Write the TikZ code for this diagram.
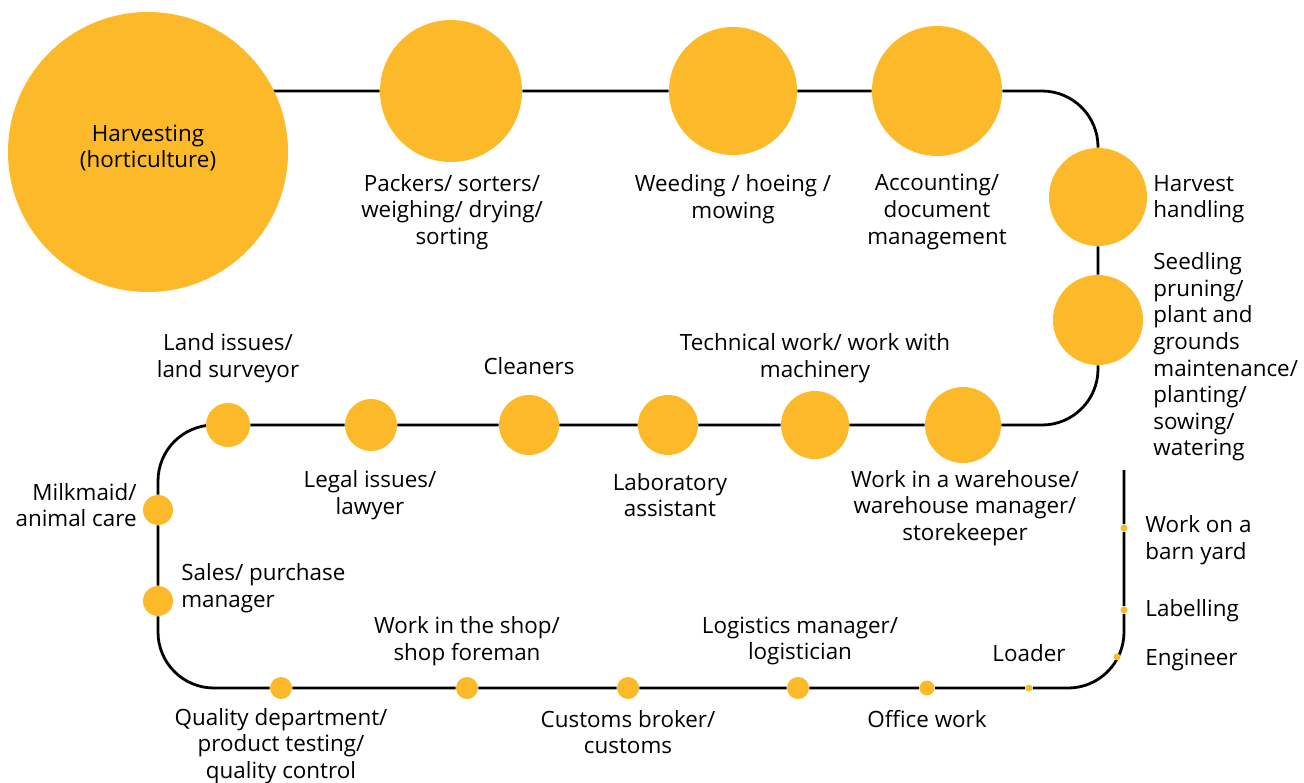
\documentclass[tikz,border=0pt]{standalone}
\usepackage{fontspec}
\setmainfont{Open Sans}
\usetikzlibrary{backgrounds}
\definecolor{amber}{RGB}{252,186,43}

\begin{document}
\begin{tikzpicture}[x=0.5pt, y=-0.5pt,
  stop/.style={circle, fill=amber, inner sep=0pt},
  lbl/.style={align=center, inner sep=0pt, font=\fontsize{11.2}{13.3}\selectfont},
  track/.style={draw=black, line width=1.4pt, rounded corners=28pt}]
  \useasboundingbox (0,0) rectangle (1304,782);

  % stops along the track
  \node[stop, minimum size=140pt] (harv) at (148,152) {};
  \node[stop, minimum size=71pt] (pack) at (451,91) {};
  \node[stop, minimum size=64pt] (weed) at (733,91) {};
  \node[stop, minimum size=65pt] (acct) at (937,91) {};
  \node[stop, minimum size=49pt] (hh) at (1098,197) {};
  \node[stop, minimum size=45pt] (seed) at (1098,320) {};
  \node[stop, minimum size=38pt] (ware) at (963,425) {};
  \node[stop, minimum size=34pt] (tech) at (815,425) {};
  \node[stop, minimum size=30pt] (lab) at (668,425) {};
  \node[stop, minimum size=30pt] (clean) at (529,425) {};
  \node[stop, minimum size=26pt] (legal) at (371,425) {};
  \node[stop, minimum size=22pt] (land) at (228,425) {};
  \node[stop, minimum size=15pt] (milk) at (158,510) {};
  \node[stop, minimum size=15pt] (sales) at (158,601) {};
  \node[stop, minimum size=11pt] (qual) at (281,688) {};
  \node[stop, minimum size=11pt] (shop) at (467,688) {};
  \node[stop, minimum size=11pt] (cust) at (628,688) {};
  \node[stop, minimum size=11pt] (logi) at (798,688) {};
  \node[stop, minimum size=7.5pt] (office) at (927,688) {};
  \node[stop, minimum size=3.5pt] (loader) at (1029,688) {};
  \node[stop, minimum size=3.5pt] (eng) at (1117,657) {};
  \node[stop, minimum size=3.5pt] (label) at (1124,610) {};
  \node[stop, minimum size=3.5pt] (barn) at (1124,528) {};

  % corners and ends of the track
  \coordinate (t0) at (200,91);
  \coordinate (c1) at (1098,91);
  \coordinate (c2) at (1098,425);
  \coordinate (c3) at (158,425);
  \coordinate (c4) at (158,688);
  \coordinate (c5) at (1124,688);
  \coordinate (tend) at (1124,470);

  \begin{pgfonlayer}{background}
    \draw[track] (t0) -- (pack) -- (weed) -- (acct) -- (c1) -- (hh) -- (seed)
      -- (c2) -- (ware) -- (tech) -- (lab) -- (clean) -- (legal) -- (land)
      -- (c3) -- (milk) -- (sales) -- (c4) -- (qual) -- (shop) -- (cust)
      -- (logi) -- (office) -- (loader) -- (c5) -- (label) -- (barn) -- (tend);
  \end{pgfonlayer}

  % labels
  \node[lbl] (harvT) at (148,148) {Harvesting\\(horticulture)};
  \node[lbl] (packT) at (452,212) {Packers/ sorters/\\weighing/ drying/\\sorting};
  \node[lbl] (weedT) at (733,199) {Weeding / hoeing /\\mowing};
  \node[lbl] (acctT) at (937,212) {Accounting/\\document\\management};
  \node[lbl, anchor=west, align=left] (hhT) at (1153,199) {Harvest\\handling};
  \node[lbl, anchor=west, align=left] (seedT) at (1153,357) {Seedling\\pruning/\\plant and\\grounds\\maintenance/\\planting/\\sowing/\\watering};
  \node[lbl] (landT) at (228,358) {Land issues/\\land surveyor};
  \node[lbl] (cleanT) at (529,366) {Cleaners};
  \node[lbl] (techT) at (815,358) {Technical work/ work with\\machinery};
  \node[lbl] (legalT) at (370,495) {Legal issues/\\lawyer};
  \node[lbl] (labT) at (670,495) {Laboratory\\assistant};
  \node[lbl] (wareT) at (965,508) {Work in a warehouse/\\warehouse manager/\\storekeeper};
  \node[lbl, anchor=east, align=right] (milkT) at (137,505) {Milkmaid/\\animal care};
  \node[lbl, anchor=west, align=left] (salesT) at (181,588) {Sales/ purchase\\manager};
  \node[lbl] (shopT) at (467,641) {Work in the shop/\\shop foreman};
  \node[lbl] (logiT) at (800,641) {Logistics manager/\\logistician};
  \node[lbl] (loaderT) at (1029,653) {Loader};
  \node[lbl] (qualT) at (281,746) {Quality department/\\product testing/\\quality control};
  \node[lbl] (custT) at (628,732) {Customs broker/\\customs};
  \node[lbl] (officeT) at (927,719) {Office work};
  \node[lbl, anchor=west, align=left] (barnT) at (1145,540) {Work on a\\barn yard};
  \node[lbl, anchor=west] (labelT) at (1145,611) {Labelling};
  \node[lbl, anchor=west] (engT) at (1145,660) {Engineer};
\end{tikzpicture}
\end{document}
